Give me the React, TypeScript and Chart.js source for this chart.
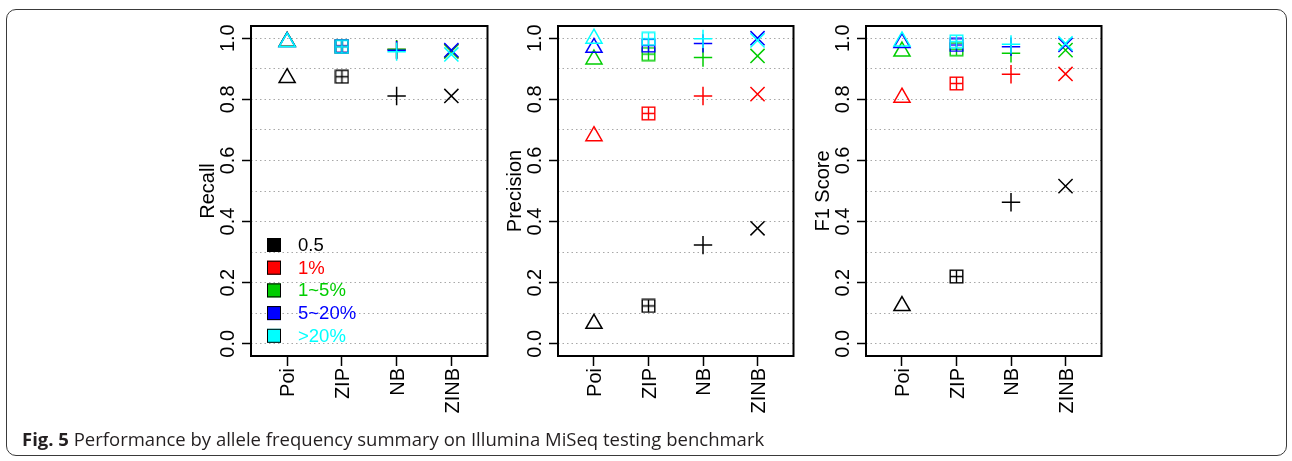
import React, { useEffect, useRef } from 'react';
import { Chart, registerables } from 'chart.js';

Chart.register(...registerables);

// ---------- data ----------
const MODELS = ['Poi', 'ZIP', 'NB', 'ZINB'];
const GROUPS = ['0.5', '1%', '1~5%', '5~20%', '>20%'];
const GROUP_COLORS = ['#000000', '#FF0000', '#00CD00', '#0000FF', '#00FFFF'];

const Y_GRID = [0, 0.1, 0.2, 0.3, 0.4, 0.5, 0.6, 0.7, 0.8, 0.9, 1.0];
const Y_TICKS = [0, 0.2, 0.4, 0.6, 0.8, 1.0];
const Y_TICK_LABELS = ['0.0', '0.2', '0.4', '0.6', '0.8', '1.0'];

// Recall
const RECALL_05 = [0.870, 0.874, 0.811, 0.811];
const RECALL_1 = [0.988, 0.974, 0.963, 0.958];
const RECALL_1_5 = [0.989, 0.973, 0.964, 0.957];
const RECALL_5_20 = [0.988, 0.974, 0.961, 0.961];
const RECALL_20 = [0.987, 0.972, 0.956, 0.947];

// Precision
const PRECISION_05 = [0.066, 0.124, 0.323, 0.378];
const PRECISION_1 = [0.680, 0.754, 0.811, 0.817];
const PRECISION_1_5 = [0.931, 0.948, 0.937, 0.942];
const PRECISION_5_20 = [0.969, 0.976, 0.983, 1.0];
const PRECISION_20 = [0.999, 0.998, 0.998, 0.993];

// F1 score
const F1_05 = [0.124, 0.220, 0.463, 0.516];
const F1_1 = [0.806, 0.852, 0.882, 0.883];
const F1_1_5 = [0.957, 0.964, 0.951, 0.961];
const F1_5_20 = [0.985, 0.978, 0.972, 0.978];
const F1_20 = [0.990, 0.989, 0.980, 0.983];

const CAPTION_BOLD = 'Fig. 5';
const CAPTION_TEXT = ' Performance by allele frequency summary on Illumina MiSeq testing benchmark';

// ---------- style ----------
const FONT = "'Liberation Sans', Arial, Helvetica, sans-serif";
const FS = 20;
const CANVAS_H = 430;
const LEFT_ROOM = 70;
const RIGHT_ROOM = 10;
const FRAME_TOP = 26;
const FRAME_BOTTOM = 356;

function makeBoxPlus(color: string): HTMLCanvasElement {
  const c = document.createElement('canvas');
  c.width = 15;
  c.height = 15;
  const g = c.getContext('2d')!;
  g.strokeStyle = color;
  g.lineWidth = 1.4;
  g.strokeRect(1.2, 1.2, 12.6, 12.6);
  g.beginPath();
  g.moveTo(7.5, 1.2);
  g.lineTo(7.5, 13.8);
  g.moveTo(1.2, 7.5);
  g.lineTo(13.8, 7.5);
  g.stroke();
  return c;
}

const rPlugin = {
  id: 'rtext',
  afterDraw(chart: any, _args: any, opts: any) {
    const { ctx, chartArea: a, scales } = chart;
    const xs = scales.x;
    const ys = scales.y;
    ctx.save();
    // box
    ctx.strokeStyle = '#000';
    ctx.lineWidth = 2;
    ctx.strokeRect(a.left, a.top, a.right - a.left, a.bottom - a.top);

    ctx.fillStyle = '#000';
    ctx.font = `${FS}px ${FONT}`;
    // y tick labels (rotated)
    Y_TICKS.forEach((v, i) => {
      const y = ys.getPixelForValue(v);
      ctx.save();
      ctx.translate(a.left - 17, y);
      ctx.rotate(-Math.PI / 2);
      ctx.textAlign = 'center';
      ctx.textBaseline = 'alphabetic';
      ctx.fillText(Y_TICK_LABELS[i], 0, 0);
      ctx.restore();
    });
    // x tick labels (perpendicular)
    MODELS.forEach((m, i) => {
      const x = xs.getPixelForValue(i + 1);
      ctx.save();
      ctx.translate(x + 7.2, a.bottom + 12);
      ctx.rotate(-Math.PI / 2);
      ctx.textAlign = 'right';
      ctx.textBaseline = 'alphabetic';
      ctx.fillText(m, 0, 0);
      ctx.restore();
    });
    // axis title
    ctx.save();
    ctx.translate(a.left - 37, (a.top + a.bottom) / 2);
    ctx.rotate(-Math.PI / 2);
    ctx.textAlign = 'center';
    ctx.textBaseline = 'alphabetic';
    ctx.fillText(opts.title, 0, 0);
    ctx.restore();

    // legend
    if (opts.legend) {
      ctx.font = `18.5px ${FONT}`;
      GROUPS.forEach((gname, i) => {
        const cy = a.bottom - 111 + i * 22.7;
        ctx.fillStyle = GROUP_COLORS[i];
        ctx.fillRect(a.left + 16, cy - 7, 14, 14);
        ctx.strokeStyle = '#000';
        ctx.lineWidth = 1;
        ctx.strokeRect(a.left + 16.5, cy - 6.5, 13, 13);
        ctx.fillStyle = GROUP_COLORS[i];
        ctx.textAlign = 'left';
        ctx.textBaseline = 'middle';
        ctx.fillText(gname, a.left + 47, cy + 1);
      });
    }
    ctx.restore();
  },
};

type PanelProps = {
  title: string;
  series: number[][];
  frameLeft: number;
  frameRight: number;
  legend?: boolean;
};

function Panel({ title, series, frameLeft, frameRight, legend }: PanelProps) {
  const ref = useRef<HTMLCanvasElement | null>(null);
  const width = frameRight - frameLeft + LEFT_ROOM + RIGHT_ROOM;

  useEffect(() => {
    if (!ref.current) return;
    const datasets = series.map((vals, gi) => {
      const color = GROUP_COLORS[gi];
      const box = makeBoxPlus(color);
      return {
        label: GROUPS[gi],
        data: vals.map((v, i) => ({ x: i + 1, y: v })),
        pointStyle: ['triangle', box, 'cross', 'crossRot'] as any,
        pointRadius: [9.3, 7, 9.2, 10],
        pointHoverRadius: [9.3, 7, 9.2, 10],
        pointBorderColor: color,
        pointBackgroundColor: 'rgba(0,0,0,0)',
        pointBorderWidth: 1.5,
        showLine: false,
        order: GROUPS.length - 1 - gi,
        clip: false as any,
      };
    });

    const chart = new Chart(ref.current, {
      type: 'scatter',
      data: { datasets },
      options: {
        animation: false,
        responsive: false,
        devicePixelRatio: 1,
        layout: { padding: { left: 0, right: RIGHT_ROOM, top: FRAME_TOP, bottom: 0 } },
        plugins: {
          legend: { display: false },
          tooltip: { enabled: false },
          rtext: { title, legend: !!legend },
        } as any,
        scales: {
          x: {
            type: 'linear',
            min: 0.34,
            max: 4.66,
            bounds: 'data',
            afterBuildTicks: (s: any) => {
              s.ticks = MODELS.map((_, i) => ({ value: i + 1 }));
            },
            afterFit: (s: any) => {
              s.height = CANVAS_H - FRAME_BOTTOM;
            },
            ticks: { display: false },
            grid: {
              drawOnChartArea: false,
              drawTicks: true,
              tickLength: 10,
              tickColor: '#000',
              tickWidth: 1.5,
            },
            border: { display: false },
          },
          y: {
            type: 'linear',
            min: -0.04,
            max: 1.04,
            bounds: 'data',
            afterBuildTicks: (s: any) => {
              s.ticks = Y_GRID.map((v) => ({ value: v }));
            },
            afterFit: (s: any) => {
              s.width = LEFT_ROOM;
            },
            ticks: { display: false },
            grid: {
              color: '#a8a8a8',
              lineWidth: 1,
              drawTicks: true,
              tickLength: 9,
              tickWidth: 1.5,
              tickBorderDash: [],
              tickColor: (c: any) => {
                const v = c.tick ? c.tick.value : -1;
                return Y_TICKS.some((t) => Math.abs(t - v) < 1e-9) ? '#000' : 'rgba(0,0,0,0)';
              },
            } as any,
            border: { display: false, dash: [1.5, 3] },
          },
        },
      },
      plugins: [rPlugin as any],
    });
    return () => chart.destroy();
  }, [title, series, frameLeft, frameRight, legend]);

  return (
    <canvas
      ref={ref}
      width={width}
      height={CANVAS_H}
      style={{ position: 'absolute', left: frameLeft - LEFT_ROOM, top: 0, width, height: CANVAS_H }}
    />
  );
}

const RECALL = [RECALL_05, RECALL_1, RECALL_1_5, RECALL_5_20, RECALL_20];
const PRECISION = [PRECISION_05, PRECISION_1, PRECISION_1_5, PRECISION_5_20, PRECISION_20];
const F1 = [F1_05, F1_1, F1_1_5, F1_5_20, F1_20];

export default function App() {
  return (
    <div
      style={{
        position: 'absolute',
        left: 0,
        top: 0,
        width: 1292,
        height: 461,
        background: '#fff',
        overflow: 'hidden',
      }}
    >
      <div
        style={{
          position: 'absolute',
          left: 6,
          top: 9,
          width: 1281,
          height: 447,
          boxSizing: 'border-box',
          border: '1.5px solid #3a3a3a',
          borderRadius: 10,
        }}
      />
      <Panel title="Recall" series={RECALL} frameLeft={251} frameRight={489} legend />
      <Panel title="Precision" series={PRECISION} frameLeft={558} frameRight={795} />
      <Panel title="F1 Score" series={F1} frameLeft={866} frameRight={1103} />
      <div
        style={{
          position: 'absolute',
          left: 22,
          top: 430,
          fontFamily: "'Open Sans', sans-serif",
          fontSize: 18.5,
          lineHeight: '18.5px',
          color: '#231f20',
          whiteSpace: 'nowrap',
        }}
      >
        <b>{CAPTION_BOLD}</b>
        {CAPTION_TEXT}
      </div>
    </div>
  );
}
